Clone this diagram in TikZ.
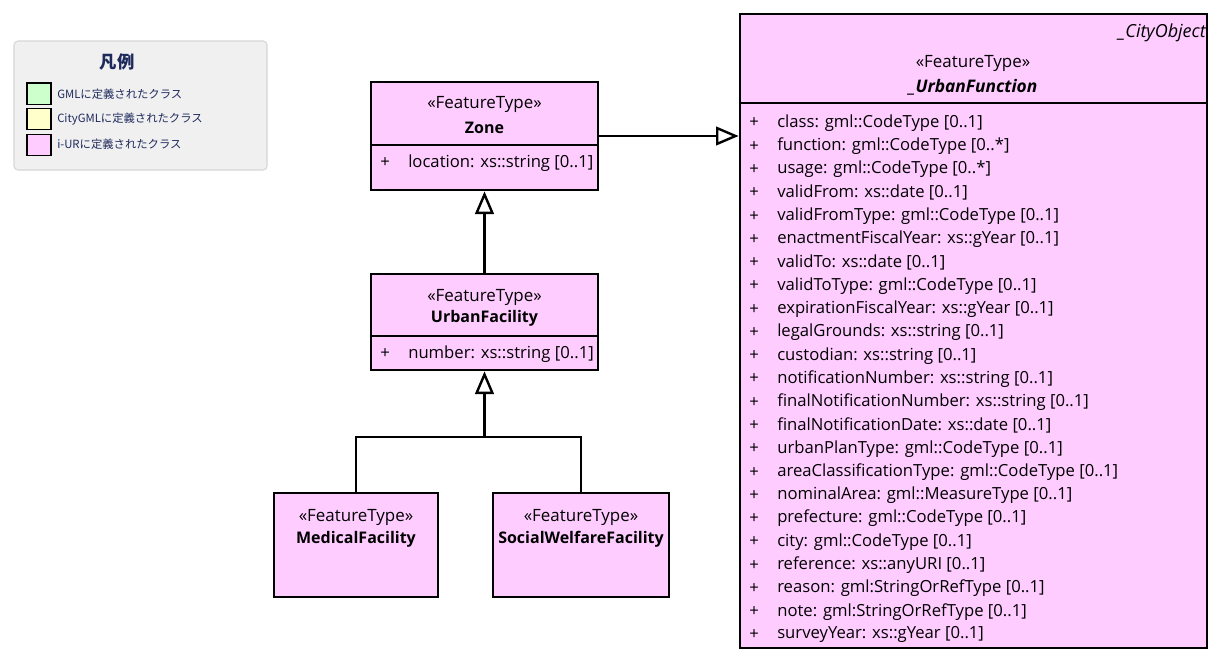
\documentclass[tikz,border=0pt]{standalone}
\usepackage{fontspec}
\setmainfont{Open Sans}
\newfontfamily\jpfont{Noto Sans CJK JP}
\usetikzlibrary{arrows.meta,fit}
\definecolor{clspink}{HTML}{FFCCFF}
\definecolor{gmlgreen}{HTML}{CCFFCC}
\definecolor{citygmlyellow}{HTML}{FFFFCC}
\definecolor{legendgray}{HTML}{F0F0F0}
\definecolor{legendline}{HTML}{D6D6D6}
\definecolor{legendtext}{HTML}{1F2A5C}
\newcommand\umlsize{\fontsize{12.5}{14}\selectfont}
\begin{document}
\begin{tikzpicture}[x=0.75pt,y=-0.75pt,
    cls/.style={draw,line width=2pt,fill=clspink,inner sep=0pt},
    stereo/.style={font=\fontsize{12.7}{14}\selectfont,inner sep=0pt},
    clsname/.style={font=\fontsize{12}{14}\selectfont\bfseries,inner sep=0pt},
    attr/.style={anchor=west,font=\umlsize,inner sep=0pt},
    inherit/.style={line width=1.8pt,-{Triangle[open,length=17pt,width=14pt]}},
    swatch/.style={draw,line width=1pt,minimum width=18pt,minimum height=16pt,inner sep=0pt},
    legenditem/.style={anchor=west,inner sep=0pt,text=legendtext,font=\jpfont\fontsize{8.5}{10}\selectfont}]
  \path[use as bounding box,fill=white] (0,0) rectangle (1225,665);

  \node[draw=legendline,fill=legendgray,line width=0.8pt,rounded corners=3pt,inner sep=0pt,fit={(14,41)(267,170)}] (legend) {};
  \node[inner sep=0pt,text=legendtext,font=\jpfont\fontsize{13}{15}\selectfont\bfseries] (legendtitle) at (117,62) {凡例};
  \node[swatch,fill=gmlgreen] (swgml) at (39,93.5) {};
  \node[swatch,fill=citygmlyellow] (swcitygml) at (39,119) {};
  \node[swatch,fill=clspink] (swiur) at (39,145) {};
  \node[legenditem] at (57,94) {GMLに定義されたクラス};
  \node[legenditem] at (57,119) {CityGMLに定義されたクラス};
  \node[legenditem] at (57,144) {i-URに定義されたクラス};

  \node[cls,fit={(371,82)(598,190)}] (zone) {};
  \draw[line width=2pt] (371,145) -- (598,145);
  \node[stereo] at (484.5,104) {«FeatureType»};
  \node[clsname] at (484.5,128) {Zone};
  \node[attr] at (380,163) {+};
  \node[attr] at (408,163) {location: xs::string [0..1]};

  \node[cls,fit={(371,274)(598,370)}] (ufac) {};
  \draw[line width=2pt] (371,336) -- (598,336);
  \node[stereo] at (484.5,297) {«FeatureType»};
  \node[clsname] at (484.5,318) {UrbanFacility};
  \node[attr] at (380,354) {+};
  \node[attr] at (408,354) {number: xs::string [0..1]};

  \node[cls,fit={(274,493)(438,597)}] (medical) {};
  \node[stereo] at (356,517) {«FeatureType»};
  \node[clsname] at (356,539) {MedicalFacility};

  \node[cls,fit={(493,493)(669,597)}] (welfare) {};
  \node[stereo] at (581,517) {«FeatureType»};
  \node[clsname] at (581,539) {SocialWelfareFacility};

  \node[cls,fit={(740,14)(1207,648)}] (func) {};
  \draw[line width=2pt] (740,103) -- (1207,103);
  \node[stereo,anchor=east,font=\fontsize{13.5}{14}\selectfont\itshape] at (1206,33) {\_CityObject};
  \node[stereo] at (973,63) {«FeatureType»};
  \node[clsname,font=\fontsize{13}{14}\selectfont\bfseries\itshape] at (973,87) {\_UrbanFunction};
  \foreach \a [count=\i from 0] in {{class: gml::CodeType [0..1]},{function: gml::CodeType [0..*]},
      {usage: gml::CodeType [0..*]},{validFrom: xs::date [0..1]},{validFromType: gml::CodeType [0..1]},
      {enactmentFiscalYear: xs::gYear [0..1]},{validTo: xs::date [0..1]},{validToType: gml::CodeType [0..1]},
      {expirationFiscalYear: xs::gYear [0..1]},{legalGrounds: xs::string [0..1]},{custodian: xs::string [0..1]},
      {notificationNumber: xs::string [0..1]},{finalNotificationNumber: xs::string [0..1]},
      {finalNotificationDate: xs::date [0..1]},{urbanPlanType: gml::CodeType [0..1]},
      {areaClassificationType: gml::CodeType [0..1]},{nominalArea: gml::MeasureType [0..1]},
      {prefecture: gml::CodeType [0..1]},{city: gml::CodeType [0..1]},{reference: xs::anyURI [0..1]},
      {reason: gml:StringOrRefType [0..1]},{note: gml:StringOrRefType [0..1]},{surveyYear: xs::gYear [0..1]}}
  {
    \node[attr] at (749,{123+23.27*\i}) {+};
    \node[attr] (fattr\i) at (777,{123+23.27*\i}) {\a};
  }

  \coordinate (junction) at (484.5,437);
  \draw[inherit] (zone.east) -- (zone.east -| func.west);
  \draw[inherit] (ufac.north) -- (zone.south);
  \draw[line width=1.8pt] (medical.north) |- (junction) -| (welfare.north);
  \draw[inherit] (junction) -- (ufac.south);
\end{tikzpicture}
\end{document}
